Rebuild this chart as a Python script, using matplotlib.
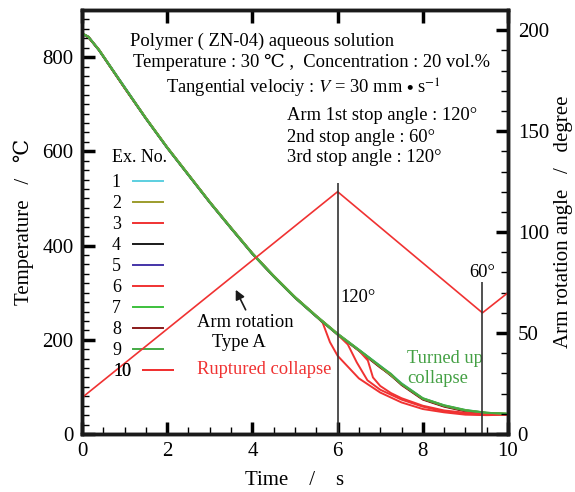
import matplotlib
matplotlib.use("Agg")
import matplotlib.pyplot as plt
from matplotlib.ticker import MultipleLocator

plt.rcParams['font.family'] = ['Liberation Serif', 'DejaVu Serif']
plt.rcParams['mathtext.fontset'] = 'stix'

# cooling curves (time s, temperature C)
t_main = [0, 0.15, 0.4, 1.0, 1.5, 2.0, 2.5, 3.0, 3.5, 4.0, 4.5, 5.0, 5.5, 6.0,
          6.5, 7.0, 7.25, 7.5, 8.0, 8.5, 9.0, 9.5, 10.0]
temp_1 = [851, 844, 816, 737, 671, 609, 551, 493, 438, 384, 336, 291, 251, 213,
          179, 145, 127, 108, 76, 61, 51, 45, 43]
temp_2 = [850, 843, 815, 735, 670, 608, 550, 492, 437, 383, 335, 290, 250, 212,
          178, 143, 125, 106, 75, 60, 50, 45, 43]
temp_4 = [849, 842, 814, 734, 669, 607, 549, 491, 436, 382, 334, 289, 249, 211,
          177, 142, 124, 105, 74, 59, 49, 44, 42]
temp_5 = [850, 843, 815, 736, 670, 608, 550, 492, 437, 383, 335, 290, 250, 212,
          178, 143, 125, 106, 75, 60, 50, 44, 42]
temp_7 = [851, 843, 816, 736, 671, 609, 551, 493, 438, 384, 336, 291, 251, 213,
          179, 144, 126, 107, 76, 61, 51, 45, 43]
temp_8 = [850, 842, 815, 735, 670, 608, 550, 492, 437, 383, 335, 290, 250, 212,
          177, 141, 126, 104, 73, 58, 48, 44, 42]
temp_9 = [849, 843, 814, 735, 669, 607, 549, 491, 436, 382, 334, 289, 249, 211,
          178, 144, 128, 106, 75, 60, 50, 45, 43]

# ruptured collapse runs
t_3 = [0, 0.15, 0.4, 1.0, 1.5, 2.0, 2.5, 3.0, 3.5, 4.0, 4.5, 5.0, 5.5, 5.65,
       5.82, 6.0, 6.5, 7.0, 7.5, 8.0, 8.5, 9.0, 9.5, 10.0]
temp_3 = [850, 843, 815, 735, 670, 608, 550, 492, 437, 383, 335, 290, 250, 236,
          195, 166, 118, 88, 67, 53, 46, 41, 40, 41]
t_6 = [0, 0.15, 0.4, 1.0, 1.5, 2.0, 2.5, 3.0, 3.5, 4.0, 4.5, 5.0, 5.5, 6.0,
       6.24, 6.45, 6.7, 7.0, 7.5, 8.0, 8.5, 9.0, 9.5, 10.0]
temp_6 = [850, 843, 815, 735, 670, 608, 550, 492, 437, 383, 335, 290, 250, 211,
          190, 152, 114, 94, 73, 58, 48, 43, 41, 41]
t_10 = [0, 0.15, 0.4, 1.0, 1.5, 2.0, 2.5, 3.0, 3.5, 4.0, 4.5, 5.0, 5.5, 6.0,
        6.5, 6.71, 6.83, 7.0, 7.25, 7.5, 8.0, 8.5, 9.0, 9.5, 10.0]
temp_10 = [850, 843, 815, 735, 670, 608, 550, 492, 437, 383, 335, 290, 250, 212,
           177, 156, 120, 102, 87, 76, 60, 50, 45, 42, 42]

# arm rotation angle
t_arm = [0, 6.0, 9.4, 10.0]
angle_arm = [18, 120, 60, 70]

runs = [
    ("1", t_main, temp_1, "#5ccfe0"),
    ("2", t_main, temp_2, "#9c9c2c"),
    ("3", t_3, temp_3, "#f03232"),
    ("4", t_main, temp_4, "#1a1a1a"),
    ("5", t_main, temp_5, "#4434a8"),
    ("6", t_6, temp_6, "#f03232"),
    ("7", t_main, temp_7, "#3cc03c"),
    ("8", t_main, temp_8, "#8a1a1a"),
    ("9", t_main, temp_9, "#44aa44"),
    ("10", t_10, temp_10, "#f03232"),
]
top_order = {"2": 5, "9": 6, "7": 4}

fig = plt.figure(figsize=(5.75, 4.92), dpi=100)
ax = fig.add_axes([0.1426, 0.1179, 0.7409, 0.8618])
ax2 = ax.twinx()

handles = []
for name, tt, yy, col in runs:
    h, = ax.plot(tt, yy, color=col, lw=1.4, label=name, zorder=top_order.get(name, 3))
    handles.append(h)

ax2.plot(t_arm, angle_arm, color="#f03232", lw=1.2)

# stop markers
ax2.vlines(6.0, 0, 124.5, color="#333333", lw=1.2)
ax2.vlines(9.4, 0, 75.5, color="#333333", lw=1.2)

ax.set_xlim(0, 10)
ax.set_ylim(0, 900)
ax2.set_ylim(0, 210)

ax.xaxis.set_major_locator(MultipleLocator(2))
ax.xaxis.set_minor_locator(MultipleLocator(0.5))
ax.yaxis.set_major_locator(MultipleLocator(200))
ax.yaxis.set_minor_locator(MultipleLocator(20))
ax2.yaxis.set_major_locator(MultipleLocator(50))
ax2.yaxis.set_minor_locator(MultipleLocator(10))

ax.tick_params(which='both', direction='in', labelsize=15, right=False)
ax.tick_params(which='major', length=9, width=2.5, top=True, pad=6)
ax.tick_params(which='minor', length=5, width=1)
ax.tick_params(axis='x', which='minor', top=False)
ax2.tick_params(which='both', direction='in', labelsize=15, pad=7)
ax2.tick_params(which='major', length=9, width=2.5)
ax2.tick_params(which='minor', length=5, width=1)

for a in (ax, ax2):
    for sp in a.spines.values():
        sp.set_linewidth(2.5)
        sp.set_color("#1a1a1a")

ax.set_xlabel("Time    /    s", fontsize=15)
ax.set_ylabel("Temperature   /   \u2103", fontsize=15)
ax2.set_ylabel("Arm rotation angle   /   degree", fontsize=15)
ax.xaxis.set_label_coords(0.5, -0.088)
ax.yaxis.set_label_coords(-0.113, 0.5)
ax2.yaxis.set_label_coords(1.108, 0.5)

leg_kw = dict(loc="upper left", frameon=False, markerfirst=False, fontsize=13,
              labelspacing=0.22, handlelength=1.65, handletextpad=0.68,
              borderpad=0, borderaxespad=0)
leg = ax.legend(handles=handles[:9], bbox_to_anchor=(0.070, 0.613), **leg_kw)
leg.set_zorder(10)
leg2 = ax2.legend(handles=handles[9:], bbox_to_anchor=(0.073, 0.167), **leg_kw)
leg2.set_zorder(10)
ax2.add_artist(leg2)

txt = dict(transform=ax.transAxes, fontsize=13.3, va="center")
ax.text(0.070, 0.653, "Ex. No.", transform=ax.transAxes, fontsize=13, va="center")
ax.text(0.113, 0.925, "Polymer ( ZN-04) aqueous solution", **txt)
ax.text(0.120, 0.877, "Temperature : 30 \u2103 ,  Concentration : 20 vol.%", **txt)
ax.text(0.197, 0.816, r"Tangential velociy : $V$ = 30 mm $\bullet$ s$^{-1}$", **txt)
ax.text(0.481, 0.750, "Arm 1st stop angle : 120\u00b0", **txt)
ax.text(0.481, 0.700, "2nd stop angle : 60\u00b0", **txt)
ax.text(0.481, 0.651, "3rd stop angle : 120\u00b0", **txt)
ax.text(0.606, 0.323, "120\u00b0", **txt)
ax.text(0.908, 0.382, "60\u00b0", **txt)
ax.text(0.383, 0.262, "Arm rotation", ha="center", transform=ax.transAxes,
        fontsize=13.3, va="center")
ax.text(0.368, 0.215, "Type A", ha="center", transform=ax.transAxes,
        fontsize=13.3, va="center")
ax.text(0.270, 0.151, "Ruptured collapse", color="#f03232", **txt)
ax.text(0.763, 0.179, "Turned up", color="#44a044", **txt)
ax.text(0.763, 0.132, "collapse", color="#44a044", **txt)

ax.annotate("", xy=(0.358, 0.346), xytext=(0.387, 0.287),
            xycoords=ax.transAxes, textcoords=ax.transAxes,
            arrowprops=dict(arrowstyle="-|>", color="#1a1a1a", lw=1.2,
                            mutation_scale=14))

fig.savefig("out.png", dpi=100)
